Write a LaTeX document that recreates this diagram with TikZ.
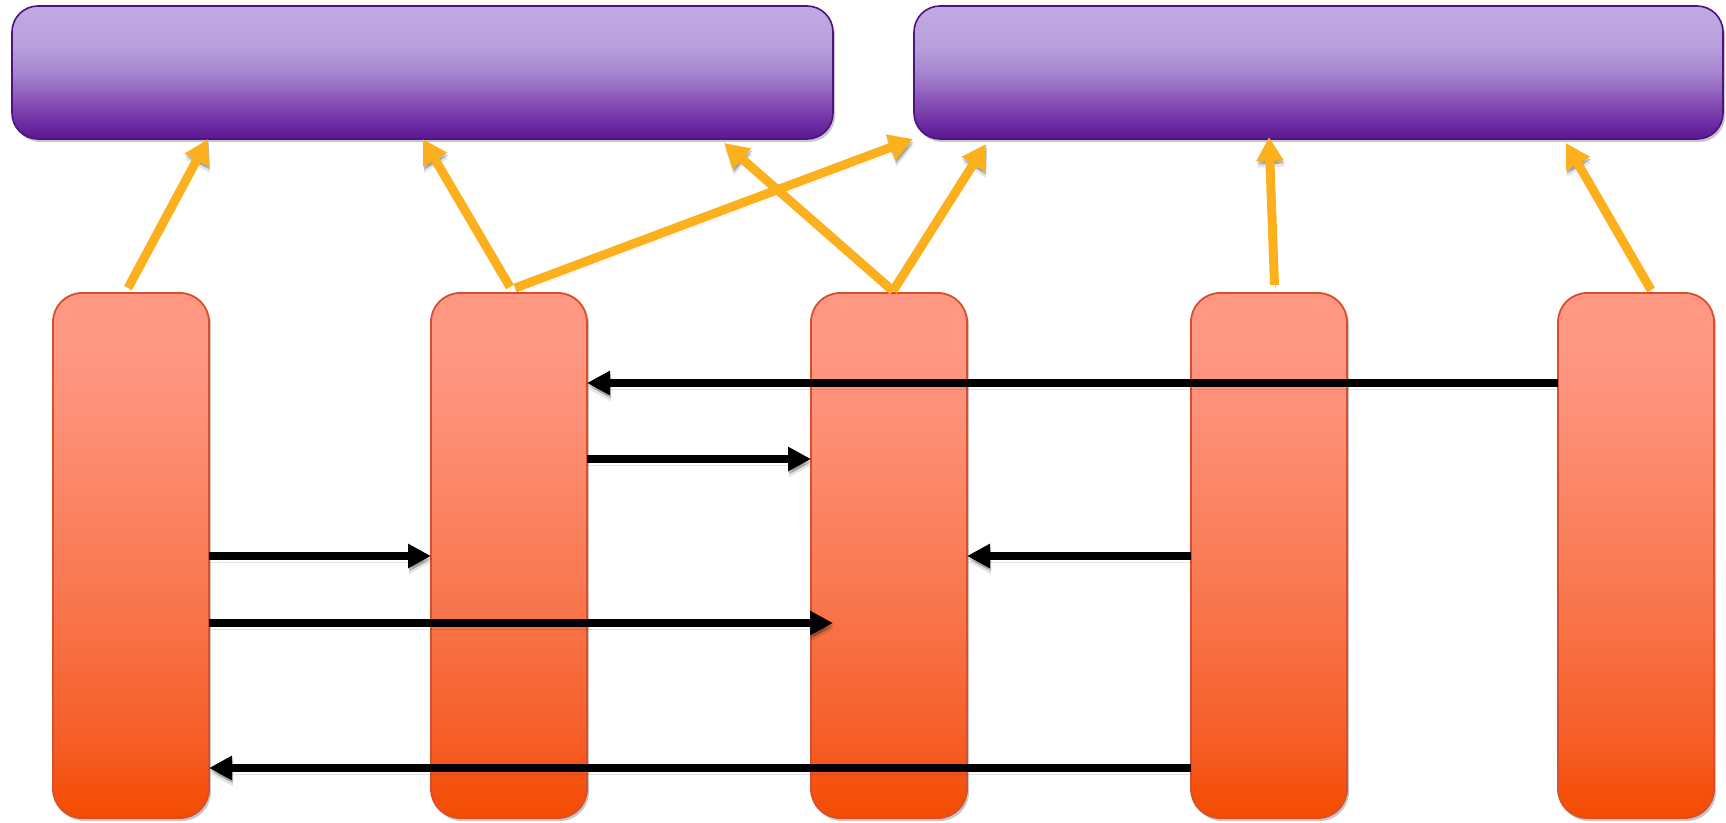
\documentclass[tikz,border=0pt]{standalone}
\usetikzlibrary{arrows.meta,shadows,calc}
\definecolor{pborder}{HTML}{4E1282}
\definecolor{oborder}{HTML}{D8502B}
\definecolor{gold}{HTML}{FDB01E}
\definecolor{pA}{HTML}{5A1891}
\definecolor{pB}{HTML}{6A28A0}
\definecolor{pC}{HTML}{8A55B9}
\definecolor{pD}{HTML}{A685CF}
\definecolor{pE}{HTML}{B8A0DC}
\definecolor{pF}{HTML}{C1AAE3}
\definecolor{oA}{HTML}{F44B00}
\definecolor{oB}{HTML}{F65F2A}
\definecolor{oC}{HTML}{F97A53}
\definecolor{oD}{HTML}{FD8E75}
\definecolor{oE}{HTML}{FF9783}
\pgfdeclareverticalshading{purp}{100bp}{color(0bp)=(pA); color(25bp)=(pA); color(30bp)=(pB); color(40bp)=(pC); color(50bp)=(pD); color(60bp)=(pE); color(75bp)=(pF); color(100bp)=(pF)}
\pgfdeclareverticalshading{orng}{100bp}{color(0bp)=(oA); color(25bp)=(oA); color(33bp)=(oB); color(48bp)=(oC); color(62bp)=(oD); color(70bp)=(oE); color(100bp)=(oE)}
\tikzset{
  pbox/.style={rectangle, rounded corners=26pt, draw=pborder, line width=1.6pt,
    shading=purp, inner sep=0pt, outer sep=0pt, anchor=north west,
    minimum height=133pt,
    drop shadow={shadow xshift=2pt, shadow yshift=-3pt, opacity=0.22, fill=black}},
  obox/.style={rectangle, rounded corners=29pt, draw=oborder, line width=1.8pt,
    shading=orng, inner sep=0pt, outer sep=0pt, anchor=north west,
    minimum width=156pt, minimum height=525pt,
    drop shadow={shadow xshift=2pt, shadow yshift=-3pt, opacity=0.22, fill=black}},
  ashadow/.style={
    preaction={draw=black, opacity=0.10, transform canvas={xshift=1pt,yshift=-6pt}},
    preaction={draw=black, opacity=0.20, transform canvas={xshift=1pt,yshift=-3pt}}},
  blk/.style={ashadow, line width=8.3pt, black, -{Triangle[length=23pt,width=23pt]}},
  gld/.style={ashadow, line width=9pt, gold, -{Triangle[length=24pt,width=26pt]}}
}
\begin{document}
\begin{tikzpicture}[x=1pt,y=-1pt]
\fill[white] (0,0) rectangle (1726,822);
\useasboundingbox (0,0) rectangle (1726,822);
% top boxes
\node[pbox, minimum width=821pt] (pa) at (12,6) {};
\node[pbox, minimum width=809pt] (pb) at (914,6) {};
% orange boxes
\node[obox] (o1) at (53,293) {};
\node[obox] (o2) at (431,293) {};
\node[obox] (o3) at (811,293) {};
\node[obox] (o4) at (1191,293) {};
\node[obox] (o5) at (1558,293) {};
% black arrows
\draw[blk] ([yshift=-90pt]o5.north west) -- ([yshift=-90pt]o2.north east);
\draw[blk] ([yshift=-166pt]o2.north east) -- ([yshift=-166pt]o3.north west);
\draw[blk] ([yshift=-263pt]o1.north east) -- ([yshift=-263pt]o2.north west);
\draw[blk] ([yshift=-263pt]o4.north west) -- ([yshift=-263pt]o3.north east);
\coordinate (t13) at ([xshift=22pt,yshift=-330pt]o3.north west);
\draw[blk] ([yshift=-330pt]o1.north east) -- (t13);
\draw[blk] ([yshift=-475pt]o4.north west) -- ([yshift=-475pt]o1.north east);
% gold arrows
\draw[gld] ([xshift=-3pt,yshift=5pt]o1.north) -- ([xshift=196pt]pa.south west);
\draw[gld] ([xshift=1pt,yshift=6pt]o2.north) -- ([xshift=411pt]pa.south west);
\draw[gld] ([xshift=6pt,yshift=5pt]o2.north) -- ([xshift=-1pt]pb.south west);
\draw[gld] ([xshift=4pt,yshift=2pt]o3.north) -- ([xshift=712pt,yshift=-4pt]pa.south west);
\draw[gld] ([xshift=4pt,yshift=2pt]o3.north) -- ([xshift=72pt,yshift=-5pt]pb.south west);
\draw[gld] ([xshift=5.5pt,yshift=8pt]o4.north) -- ([xshift=355pt,yshift=2pt]pb.south west);
\draw[gld] ([xshift=15pt,yshift=3pt]o5.north) -- ([xshift=652pt,yshift=-4pt]pb.south west);
\end{tikzpicture}
\end{document}
